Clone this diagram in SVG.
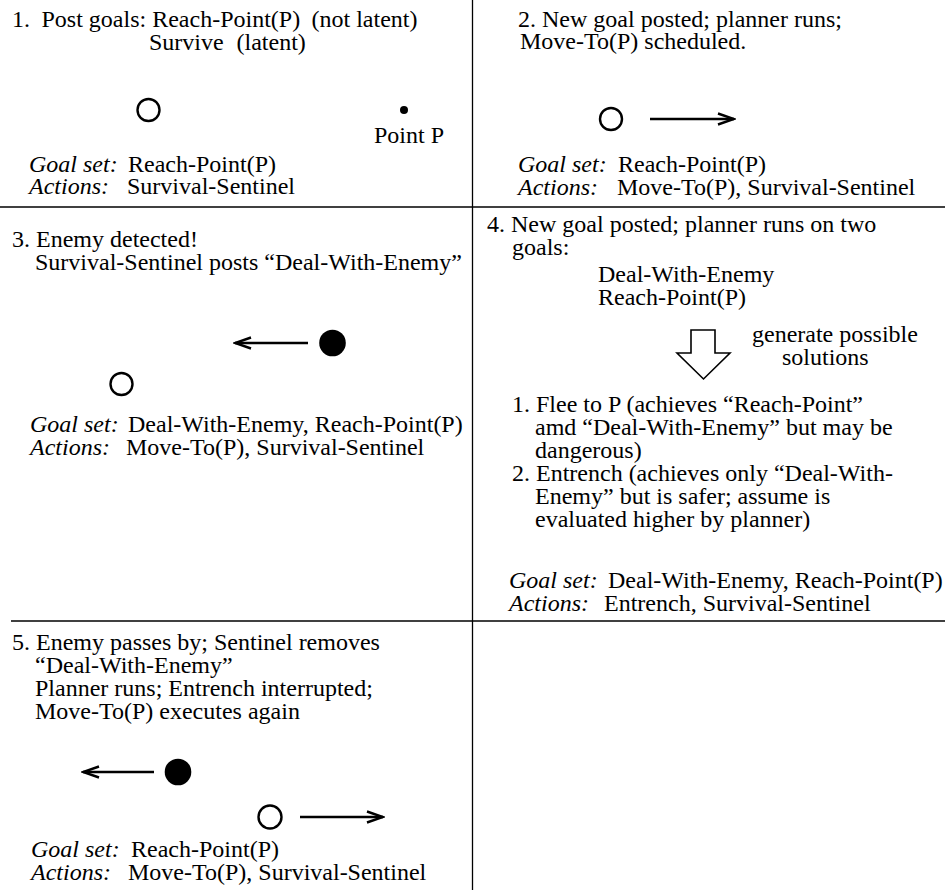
<svg xmlns="http://www.w3.org/2000/svg" width="945" height="890" viewBox="0 0 945 890">
  <style>
    text { font-family: "Liberation Serif", "Times New Roman", serif; font-size: 24px; fill: #000; }
    .it { font-style: italic; }
    .rule { stroke: #000; stroke-width: 1.3; fill: none; }
    .agent { fill: #fff; stroke: #000; stroke-width: 2.4; }
    .enemy { fill: #000; }
    .move { stroke: #000; stroke-width: 2.4; fill: none; marker-end: url(#head); }
    .big { fill: #fff; stroke: #000; stroke-width: 1.6; stroke-linejoin: miter; }
  </style>
  <defs>
    <marker id="head" viewBox="0 0 20 14" refX="18" refY="7" markerWidth="20" markerHeight="14" markerUnits="userSpaceOnUse" orient="auto">
      <path d="M2,1.5 L18,7 L2,12.5" fill="none" stroke="#000" stroke-width="2.4"/>
    </marker>
  </defs>
  <rect width="945" height="890" fill="#fff"/>

  <!-- panel dividers -->
  <g id="grid">
    <line class="rule" x1="472.5" y1="0" x2="472.5" y2="890"/>
    <line class="rule" x1="0" y1="207" x2="945" y2="207"/>
    <line class="rule" x1="11" y1="621" x2="945" y2="621"/>
  </g>

  <!-- step 1 -->
  <g id="step1">
    <text x="12" y="27">1.<tspan x="41.5">Post goals: Reach-Point(P)</tspan><tspan x="311.5">(not latent)</tspan></text>
    <text x="149" y="50">Survive<tspan x="236.5">(latent)</tspan></text>
    <circle class="agent" cx="148.5" cy="110" r="11"/>
    <circle class="enemy" cx="404" cy="110" r="4"/>
    <text x="374" y="143">Point P</text>
    <text x="29" y="172"><tspan class="it">Goal set:</tspan><tspan x="128">Reach-Point(P)</tspan></text>
    <text x="29" y="194"><tspan class="it">Actions:</tspan><tspan x="127">Survival-Sentinel</tspan></text>
  </g>

  <!-- step 2 -->
  <g id="step2">
    <text x="518" y="27">2. New goal posted; planner runs;</text>
    <text x="520" y="49">Move-To(P) scheduled.</text>
    <circle class="agent" cx="611" cy="119" r="11"/>
    <text x="518" y="172"><tspan class="it">Goal set:</tspan><tspan x="618">Reach-Point(P)</tspan></text>
    <text x="518" y="195"><tspan class="it">Actions:</tspan><tspan x="617">Move-To(P), Survival-Sentinel</tspan></text>
  </g>

  <!-- step 3 -->
  <g id="step3">
    <text x="12" y="247">3. Enemy detected!</text>
    <text x="35" y="270">Survival-Sentinel posts “Deal-With-Enemy”</text>
    <circle class="enemy" cx="332.5" cy="343" r="13.3"/>
    <circle class="agent" cx="121.5" cy="384" r="11"/>
    <text x="30" y="432"><tspan class="it">Goal set:</tspan><tspan x="128">Deal-With-Enemy, Reach-Point(P)</tspan></text>
    <text x="30" y="455"><tspan class="it">Actions:</tspan><tspan x="126">Move-To(P), Survival-Sentinel</tspan></text>
  </g>

  <!-- step 4 -->
  <g id="step4">
    <text x="487" y="232">4. New goal posted; planner runs on two</text>
    <text x="512" y="255">goals:</text>
    <text x="598" y="282">Deal-With-Enemy</text>
    <text x="598" y="305">Reach-Point(P)</text>
    <path class="big" d="M691,330 H715 V353 H730 L703.5,379 L677,353 H691 Z"/>
    <text x="752" y="342">generate possible</text>
    <text x="782" y="365">solutions</text>
    <text x="512" y="412">1. Flee to P (achieves “Reach-Point”</text>
    <text x="535" y="435">amd “Deal-With-Enemy” but may be</text>
    <text x="535" y="458">dangerous)</text>
    <text x="512" y="481">2. Entrench (achieves only “Deal-With-</text>
    <text x="535" y="504">Enemy” but is safer; assume is</text>
    <text x="535" y="527">evaluated higher by planner)</text>
    <text x="509" y="588"><tspan class="it">Goal set:</tspan><tspan x="608">Deal-With-Enemy, Reach-Point(P)</tspan></text>
    <text x="509" y="611"><tspan class="it">Actions:</tspan><tspan x="604">Entrench, Survival-Sentinel</tspan></text>
  </g>

  <!-- step 5 -->
  <g id="step5">
    <text x="12" y="650">5. Enemy passes by; Sentinel removes</text>
    <text x="35" y="673">“Deal-With-Enemy”</text>
    <text x="35" y="696">Planner runs; Entrench interrupted;</text>
    <text x="35" y="719">Move-To(P) executes again</text>
    <circle class="enemy" cx="178" cy="772" r="13.3"/>
    <circle class="agent" cx="270" cy="817" r="11.5"/>
    <text x="31" y="857"><tspan class="it">Goal set:</tspan><tspan x="131">Reach-Point(P)</tspan></text>
    <text x="31" y="880"><tspan class="it">Actions:</tspan><tspan x="128">Move-To(P), Survival-Sentinel</tspan></text>
  </g>

  <!-- movement arrows -->
  <g id="connectors">
    <line class="move" x1="650" y1="119" x2="734" y2="119"/>
    <line class="move" x1="308" y1="343" x2="235" y2="343"/>
    <line class="move" x1="154" y1="772" x2="83" y2="772"/>
    <line class="move" x1="300" y1="817" x2="383" y2="817"/>
  </g>
</svg>
